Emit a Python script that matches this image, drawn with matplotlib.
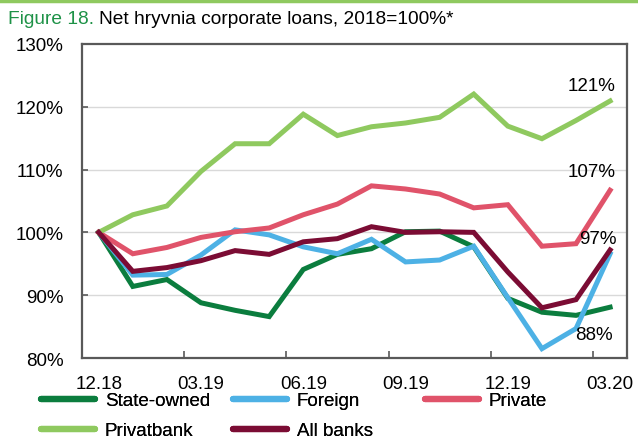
import matplotlib
matplotlib.use('Agg')
from matplotlib import pyplot as plt
from matplotlib.lines import Line2D

plt.rcParams['font.family'] = ['Liberation Sans', 'DejaVu Sans']

months = ['12.18', '01.19', '02.19', '03.19', '04.19', '05.19', '06.19', '07.19',
          '08.19', '09.19', '10.19', '11.19', '12.19', '01.20', '02.20', '03.20']

state_owned = [100, 91.4, 92.5, 88.8, 87.6, 86.6, 94.1, 96.5,
               97.4, 100.1, 100.2, 97.7, 89.5, 87.3, 86.8, 88.1]
foreign = [100, 93.2, 93.3, 96.4, 100.4, 99.6, 97.7, 96.6,
           98.9, 95.3, 95.6, 97.8, 89.6, 81.5, 84.7, 96.6]
private = [100, 96.6, 97.6, 99.2, 100.1, 100.7, 102.8, 104.5,
           107.4, 106.9, 106.1, 103.9, 104.4, 97.8, 98.2, 106.7]
privatbank = [100, 102.8, 104.2, 109.7, 114.1, 114.1, 118.8, 115.4,
              116.8, 117.4, 118.3, 122.0, 116.9, 114.9, 117.8, 120.9]
all_banks = [100, 93.8, 94.4, 95.5, 97.1, 96.5, 98.5, 99.0,
             100.9, 100.0, 100.1, 100.0, 93.7, 88.0, 89.3, 97.2]

series = [
    ('State-owned', state_owned, '#0b7d3e'),
    ('Foreign', foreign, '#4db1e5'),
    ('Private', private, '#e0536a'),
    ('Privatbank', privatbank, '#8fc95f'),
    ('All banks', all_banks, '#7b0c34'),
]

# end-of-period labels: (series index, offset in points)
end_labels = [(3, (-13, 11.5)), (2, (-13.5, 13.5)), (4, (-8.5, 8.5)), (0, (-12, -19.5))]

fig = plt.figure(figsize=(6.38, 4.39), dpi=100)
ax = fig.add_axes([0.128, 0.182, 0.855, 0.716])

x = list(range(len(months)))
for name, vals, col in series:
    ax.plot(x, vals, color=col, lw=3.6, solid_joinstyle='miter', label=name)

for idx, (dx, dy) in end_labels:
    v = series[idx][1][-1]
    ax.annotate('{:.0f}%'.format(v), xy=(x[-1], v), xytext=(dx, dy),
                textcoords='offset points', ha='center', va='center', fontsize=13.5)

ax.set_xlim(-0.5, len(months) - 0.5)
ax.set_ylim(80, 130)
ax.set_yticks([80, 90, 100, 110, 120, 130])
ax.set_yticklabels(['{}%'.format(v) for v in [80, 90, 100, 110, 120, 130]])
ax.set_xticks(x[::3])
ax.set_xticklabels(months[::3])
ax.set_xticks([2.5, 5.5, 8.5, 11.5, 14.5], minor=True)

for yv in [90, 100, 110, 120]:
    ax.axhline(yv, color='#d9d9d9', lw=1, zorder=0)

for s in ax.spines.values():
    s.set_color('#595959')
    s.set_linewidth(1.6)

ax.tick_params(axis='y', direction='in', length=4, width=1.2, color='#595959',
               labelsize=13.5, pad=13)
ax.tick_params(axis='x', which='major', length=0, labelsize=13.5, pad=12)
ax.tick_params(axis='x', which='minor', direction='in', length=5, width=1.2, color='#595959')

# legend drawn as three columns so each column sits at a fixed x
columns = [[0, 3], [1, 4], [2]]
col_x = [41, 233, 425]
for cols, cx in zip(columns, col_x):
    handles = [Line2D([], [], color=series[i][2], lw=4.5, solid_capstyle='round') for i in cols]
    labels = [series[i][0] for i in cols]
    leg = fig.legend(handles, labels, loc='upper left',
                     bbox_to_anchor=(cx / 638, 1 - 393 / 439), frameon=False,
                     fontsize=13.5, handlelength=2.9, handletextpad=0.5,
                     labelspacing=0.7, borderaxespad=0, borderpad=0)
    fig.add_artist(leg)

# title: green figure number followed by black text
fig.add_artist(Line2D([0, 1], [1 - 2 / 439, 1 - 2 / 439], color='#8fc95f', lw=2.5))
t1 = fig.text(8 / 638, 1 - 19 / 439, 'Figure 18.', color='#1e9247', fontsize=13.8, va='center')
fig.canvas.draw()
bb = t1.get_window_extent()
fig.text((bb.x1 + 5) / 638, 1 - 19 / 439, 'Net hryvnia corporate loans, 2018=100%*',
         color='black', fontsize=13.8, va='center')

fig.savefig('out.png', dpi=100)
